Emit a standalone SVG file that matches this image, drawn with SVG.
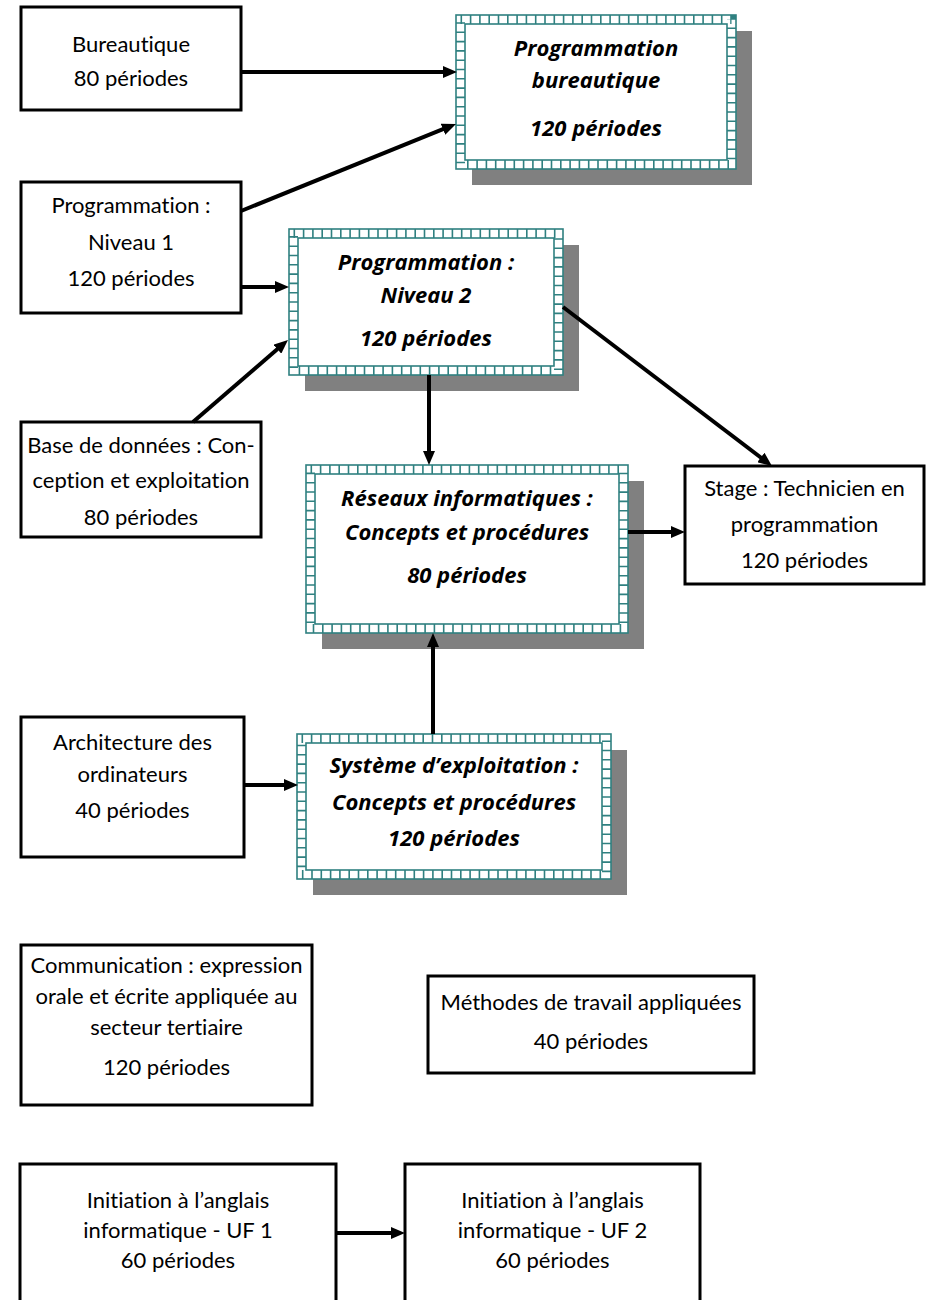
<svg xmlns="http://www.w3.org/2000/svg" width="932" height="1300" viewBox="0 0 932 1300">
<style>
.box{fill:#fff;stroke:#000;stroke-width:3}
.shadow{fill:#808080}
.ring{fill:none;stroke:#2f8080;stroke-width:9;stroke-dasharray:1.6 7.7}
.edge{fill:none;stroke:#2f8080;stroke-width:1.6}
.bg{fill:#fff}
.t{font-family:Lato,"Open Sans","Liberation Sans",sans-serif;font-size:22px;text-anchor:middle;fill:#000;font-variant-ligatures:none}
.bt{font-family:"Open Sans",Lato,"Liberation Sans",sans-serif;font-size:22px;font-weight:bold;font-style:italic;text-anchor:middle;fill:#000;font-variant-ligatures:none}
.c{stroke:#000;stroke-width:4;fill:none;marker-end:url(#ah)}
</style>
<defs>
<marker id="ah" markerUnits="userSpaceOnUse" markerWidth="14" markerHeight="12" refX="4" refY="6" orient="auto">
<path d="M0,0 L14,6 L0,12 z" fill="#000"/>
</marker>
</defs>
<rect width="932" height="1300" fill="#fff"/>

<g id="bureautique">
<rect class="box" x="21" y="7" width="220" height="103"/>
<text class="t" x="131" y="52">Bureautique</text>
<text class="t" x="131" y="86">80 périodes</text>
</g>

<g id="prog1">
<rect class="box" x="21" y="182" width="220" height="131"/>
<text class="t" x="131" y="213">Programmation :</text>
<text class="t" x="131" y="250">Niveau 1</text>
<text class="t" x="131" y="286">120 périodes</text>
</g>

<g id="bdd">
<rect class="box" x="21" y="422" width="240" height="115"/>
<text class="t" x="141" y="453">Base de données : Con-</text>
<text class="t" x="141" y="488">ception et exploitation</text>
<text class="t" x="141" y="525">80 périodes</text>
</g>

<g id="progbur">
<rect class="shadow" x="472" y="31" width="280" height="154"/>
<rect class="bg" x="456" y="15" width="280" height="154"/>
<rect class="ring" x="460.5" y="19.5" width="271" height="145"/>
<rect class="edge" x="456" y="15" width="280" height="154"/>
<rect class="edge" x="465" y="24" width="262" height="136"/>
<text class="bt" x="596" y="56">Programmation</text>
<text class="bt" x="596" y="88">bureautique</text>
<text class="bt" x="596" y="136">120 périodes</text>
</g>

<g id="prog2">
<rect class="shadow" x="305" y="245" width="274" height="146"/>
<rect class="bg" x="289" y="229" width="274" height="146"/>
<rect class="ring" x="293.5" y="233.5" width="265" height="137"/>
<rect class="edge" x="289" y="229" width="274" height="146"/>
<rect class="edge" x="298" y="238" width="256" height="128"/>
<text class="bt" x="426" y="270">Programmation :</text>
<text class="bt" x="426" y="303">Niveau 2</text>
<text class="bt" x="426" y="346">120 périodes</text>
</g>

<g id="reseaux">
<rect class="shadow" x="322" y="481" width="322" height="168"/>
<rect class="bg" x="306" y="465" width="322" height="168"/>
<rect class="ring" x="310.5" y="469.5" width="313" height="159"/>
<rect class="edge" x="306" y="465" width="322" height="168"/>
<rect class="edge" x="315" y="474" width="304" height="150"/>
<text class="bt" x="467" y="506">Réseaux informatiques :</text>
<text class="bt" x="467" y="540">Concepts et procédures</text>
<text class="bt" x="467" y="583">80 périodes</text>
</g>

<g id="stage">
<rect class="box" x="685" y="466" width="239" height="118"/>
<text class="t" x="804.5" y="496">Stage : Technicien en</text>
<text class="t" x="804.5" y="532">programmation</text>
<text class="t" x="804.5" y="568">120 périodes</text>
</g>

<g id="architecture">
<rect class="box" x="21" y="717" width="223" height="140"/>
<text class="t" x="132.5" y="750">Architecture des</text>
<text class="t" x="132.5" y="782">ordinateurs</text>
<text class="t" x="132.5" y="818">40 périodes</text>
</g>

<g id="systeme">
<rect class="shadow" x="313" y="750" width="314" height="145"/>
<rect class="bg" x="297" y="734" width="314" height="145"/>
<rect class="ring" x="301.5" y="738.5" width="305" height="136"/>
<rect class="edge" x="297" y="734" width="314" height="145"/>
<rect class="edge" x="306" y="743" width="296" height="127"/>
<text class="bt" x="454" y="773">Système d’exploitation :</text>
<text class="bt" x="454" y="810">Concepts et procédures</text>
<text class="bt" x="454" y="846">120 périodes</text>
</g>

<g id="communication">
<rect class="box" x="21" y="945" width="291" height="160"/>
<text class="t" x="166.5" y="973">Communication : expression</text>
<text class="t" x="166.5" y="1004">orale et écrite appliquée au</text>
<text class="t" x="166.5" y="1035">secteur tertiaire</text>
<text class="t" x="166.5" y="1075">120 périodes</text>
</g>

<g id="methodes">
<rect class="box" x="428" y="976" width="326" height="97"/>
<text class="t" x="591" y="1010">Méthodes de travail appliquées</text>
<text class="t" x="591" y="1049">40 périodes</text>
</g>

<g id="anglais1">
<rect class="box" x="20" y="1164" width="316" height="150"/>
<text class="t" x="178" y="1208">Initiation à l’anglais</text>
<text class="t" x="178" y="1238">informatique - UF 1</text>
<text class="t" x="178" y="1268">60 périodes</text>
</g>

<g id="anglais2">
<rect class="box" x="405" y="1164" width="295" height="150"/>
<text class="t" x="552.5" y="1208">Initiation à l’anglais</text>
<text class="t" x="552.5" y="1238">informatique - UF 2</text>
<text class="t" x="552.5" y="1268">60 périodes</text>
</g>

<g id="connectors">
<line class="c" x1="241" y1="72" x2="447" y2="72"/>
<line class="c" x1="241" y1="211" x2="446.7" y2="127.7"/>
<line class="c" x1="241" y1="287" x2="279" y2="287"/>
<line class="c" x1="193" y1="422" x2="280.4" y2="346.5"/>
<line class="c" x1="429" y1="375" x2="429" y2="455"/>
<line class="c" x1="563" y1="307" x2="764" y2="459.9"/>
<line class="c" x1="628" y1="532" x2="675" y2="532"/>
<line class="c" x1="433" y1="734" x2="433" y2="643"/>
<line class="c" x1="244" y1="785" x2="288" y2="785"/>
<line class="c" x1="336" y1="1233" x2="395" y2="1233"/>
</g>
</svg>
